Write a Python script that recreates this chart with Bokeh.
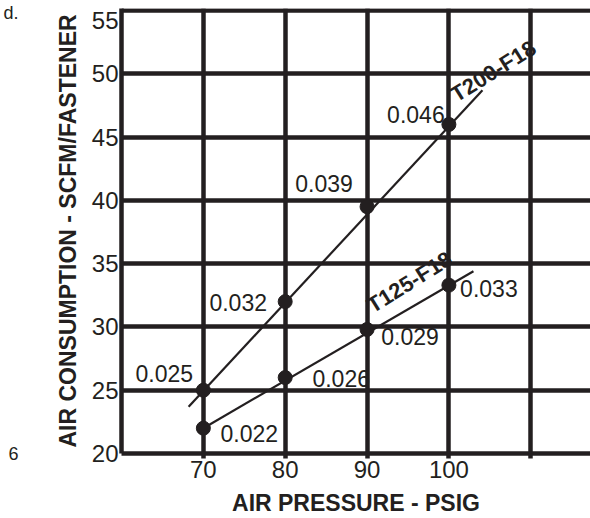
from bokeh.plotting import figure
from bokeh.models import ColumnDataSource, FixedTicker, LinearAxis
from bokeh.core.properties import value
from bokeh.embed import file_html
from bokeh.resources import INLINE

# ---- data ----
pressure = [70, 80, 90, 100]
t200_scfm = [25.0, 32.0, 39.5, 46.0]
t200_text = ["0.025", "0.032", "0.039", "0.046"]
t125_scfm = [22.0, 26.0, 29.8, 33.3]
t125_text = ["0.022", "0.026", "0.029", "0.033"]
t200_line_x = [68.2, 104.1]
t200_line_y = [23.7, 48.7]
t125_line_x = [70.0, 103.0]
t125_line_y = [22.0, 34.4]
x_ticks = [70, 80, 90, 100, 110]
y_ticks = [20, 25, 30, 35, 40, 45, 50, 55]
y_tick_labels = ["20", "25", "30", "35", "40", "45", "50", "55"]
series_names = ["T200-F18", "T125-F18"]
x_title = "AIR PRESSURE - PSIG"
y_title = "AIR CONSUMPTION - SCFM/FASTENER"
margin_texts = ["d.", "6"]

# ---- placement (pixel offsets / label shifts) ----
t200_dx = [-39, -47, -43, -33]
t200_dy = [-17, 1, -23, -10]
t125_dx = [46, 56, 43, 40]
t125_dy = [5, 1, 7, 3]
top_label_shift = -0.8            # the top tick label sits a little below its line
margin_text_pos = [54.84, 20.0]   # vertical positions (axis units) of the stray texts

INK = "#231f20"
FONT = "Liberation Sans"

p = figure(width=590, height=518, x_range=(60, 117.3), y_range=(20, 55.16),
           output_backend="svg", toolbar_location=None,
           min_border_left=120, min_border_right=0, min_border_top=8,
           min_border_bottom=64)
p.outline_line_color = None
p.background_fill_color = "white"
p.border_fill_color = "white"

# tick label positions on the y axis (top one nudged down), grid on the real ticks
y_label_pos = y_ticks[:-1] + [y_ticks[-1] + top_label_shift]
p.yaxis.ticker = FixedTicker(ticks=y_label_pos)
p.yaxis.major_label_overrides = {pos: lab for pos, lab in zip(y_label_pos, y_tick_labels)}
p.ygrid.ticker = FixedTicker(ticks=y_ticks)
p.xaxis.ticker = FixedTicker(ticks=x_ticks)
p.xgrid.ticker = FixedTicker(ticks=x_ticks)
p.xaxis.major_label_overrides = {110: ""}
p.xaxis.axis_label = x_title
p.yaxis.axis_label = y_title

for ax in p.axis:
    ax.axis_line_color = INK
    ax.axis_line_width = 4.5
    ax.minor_tick_line_color = None
    ax.major_tick_line_color = INK
    ax.major_tick_line_width = 4.5
    ax.major_tick_in = 0
    ax.major_label_text_font = FONT
    ax.major_label_text_font_size = "24px"
    ax.major_label_text_color = INK
    ax.axis_label_text_font = FONT
    ax.axis_label_text_font_size = "23px"
    ax.axis_label_text_font_style = "bold"
    ax.axis_label_text_color = INK

p.xaxis.major_tick_out = 5
p.xaxis.major_label_standoff = 2
p.xaxis.axis_label_standoff = 9
p.yaxis.major_tick_out = 0
p.yaxis.major_tick_line_color = None
p.yaxis.major_label_standoff = 3
p.yaxis.axis_label_standoff = 8

p.grid.grid_line_color = INK
p.grid.grid_line_width = 4.5

# stray cropped texts in the left margin, carried by a bare extra axis
side = LinearAxis(ticker=FixedTicker(ticks=margin_text_pos),
                  major_label_overrides={pos: t for pos, t in zip(margin_text_pos, margin_texts)},
                  axis_line_color=None, major_tick_line_color=None, minor_tick_line_color=None,
                  major_tick_out=0, major_tick_in=0, major_label_standoff=33,
                  major_label_text_font=FONT, major_label_text_font_size="18px",
                  major_label_text_color=INK)
p.add_layout(side, "left")

# fitted lines
p.line(t200_line_x, t200_line_y, line_color=INK, line_width=2.2)
p.line(t125_line_x, t125_line_y, line_color=INK, line_width=2.2)

# points
p.scatter(pressure, t200_scfm, size=14, fill_color=INK, line_color=INK)
p.scatter(pressure, t125_scfm, size=14, fill_color=INK, line_color=INK)

# value labels
src200 = ColumnDataSource(dict(x=pressure, y=t200_scfm, t=t200_text, dx=t200_dx, dy=t200_dy))
src125 = ColumnDataSource(dict(x=pressure, y=t125_scfm, t=t125_text, dx=t125_dx, dy=t125_dy))
for src in (src200, src125):
    p.text(x="x", y="y", text="t", x_offset="dx", y_offset="dy", source=src,
           text_font=value(FONT), text_font_size="23px", text_color=INK,
           text_align="center", text_baseline="middle")

# series names
p.text(x=[pressure[3]], y=[t200_scfm[3]], text=[series_names[0]], x_offset=4, y_offset=-28,
       angle=32, angle_units="deg", text_font=value(FONT), text_font_size="22px",
       text_font_style="bold", text_color=INK, text_align="left", text_baseline="alphabetic")
p.text(x=[pressure[2]], y=[t125_scfm[2]], text=[series_names[1]], x_offset=2, y_offset=-22,
       angle=32, angle_units="deg", text_font=value(FONT), text_font_size="22px",
       text_font_style="bold", text_color=INK, text_align="left", text_baseline="alphabetic")

open("out.html", "w").write(file_html(p, INLINE))
